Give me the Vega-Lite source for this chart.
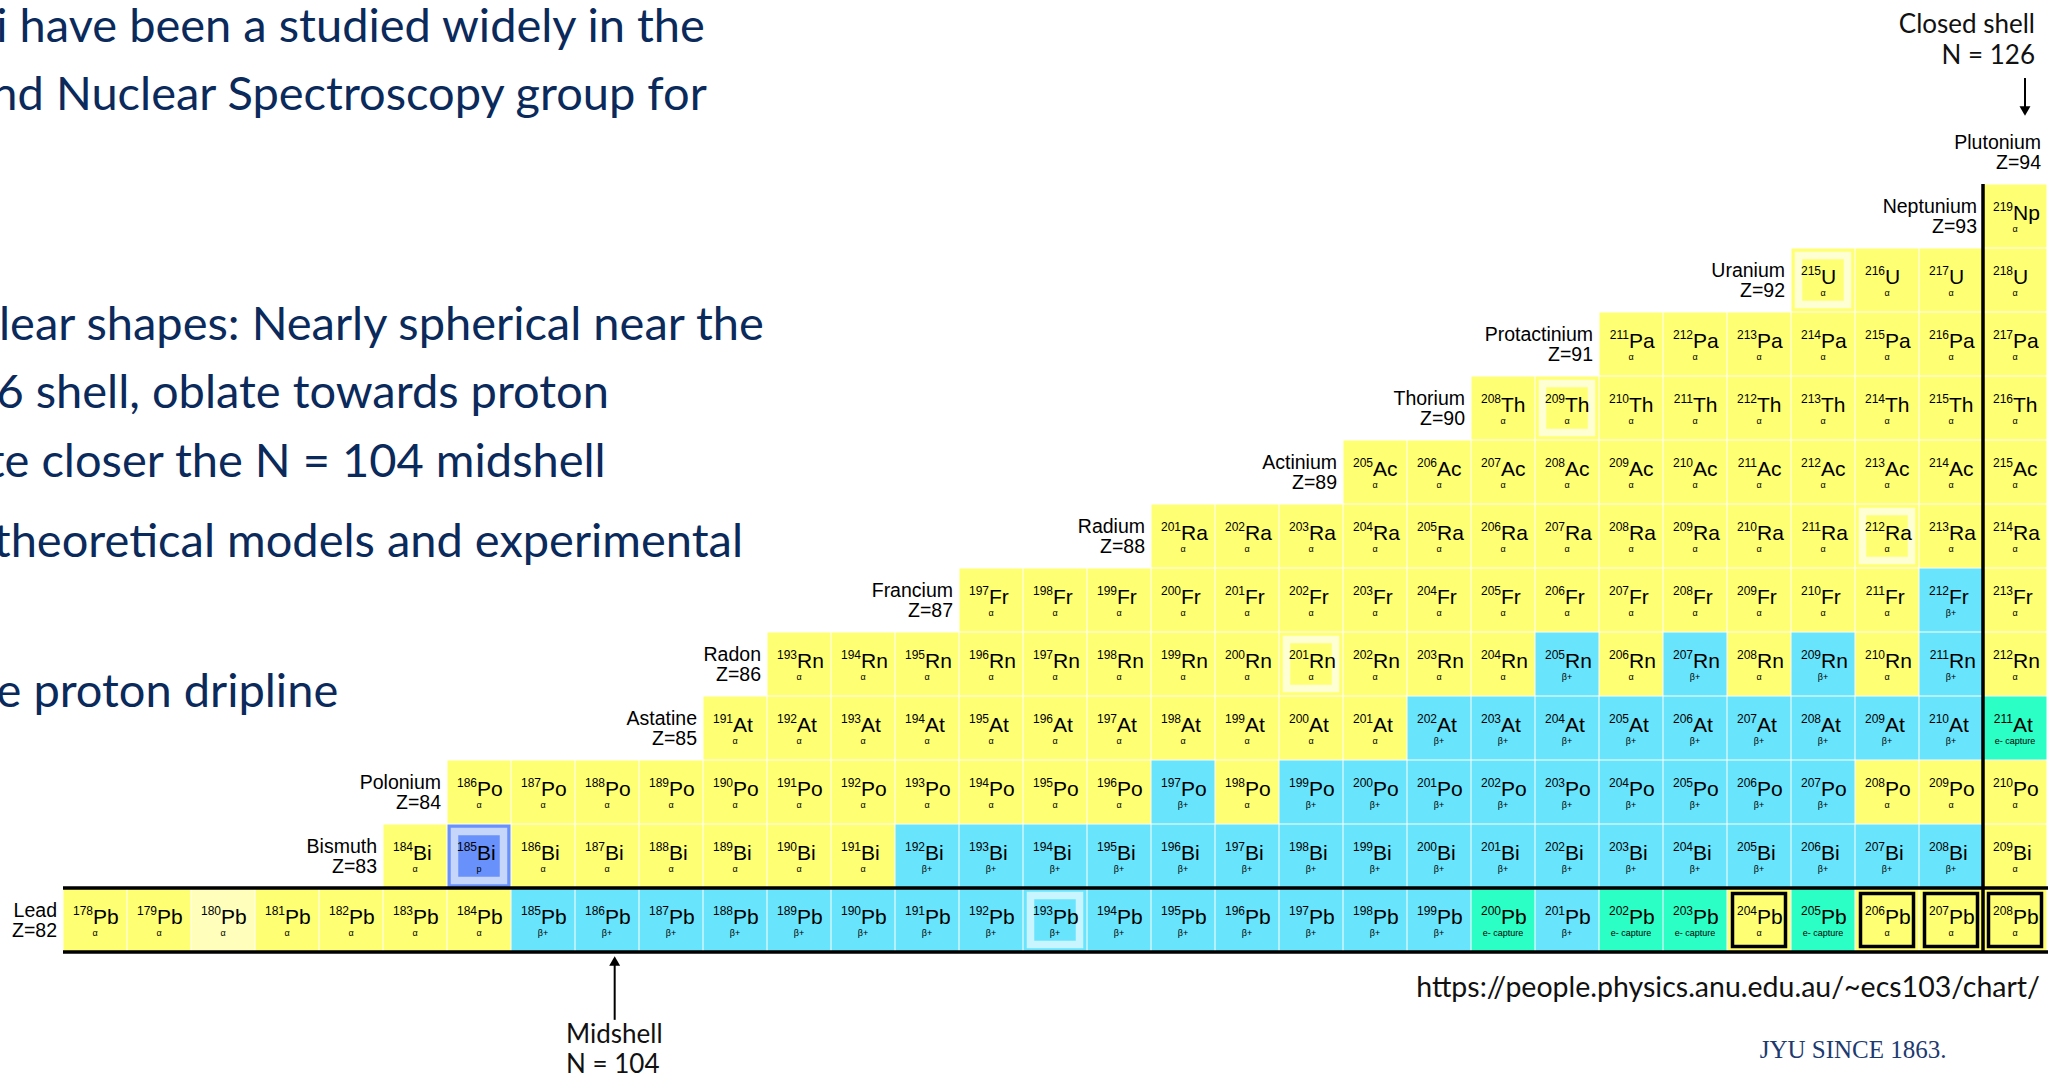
{
  "$schema": "https://vega.github.io/schema/vega-lite/v6.json",
  "width": 2048,
  "height": 1075,
  "padding": 0,
  "autosize": {"type": "none"},
  "background": "white",
  "config": {"view": {"stroke": null}},
  "datasets": {
    "nuclides": [
      {"e":"Pb","Z":82,"N":96,"A":178,"d":"α"},
      {"e":"Pb","Z":82,"N":97,"A":179,"d":"α"},
      {"e":"Pb","Z":82,"N":98,"A":180,"d":"α","s":"faded"},
      {"e":"Pb","Z":82,"N":99,"A":181,"d":"α"},
      {"e":"Pb","Z":82,"N":100,"A":182,"d":"α"},
      {"e":"Pb","Z":82,"N":101,"A":183,"d":"α"},
      {"e":"Pb","Z":82,"N":102,"A":184,"d":"α"},
      {"e":"Pb","Z":82,"N":103,"A":185,"d":"β+"},
      {"e":"Pb","Z":82,"N":104,"A":186,"d":"β+"},
      {"e":"Pb","Z":82,"N":105,"A":187,"d":"β+"},
      {"e":"Pb","Z":82,"N":106,"A":188,"d":"β+"},
      {"e":"Pb","Z":82,"N":107,"A":189,"d":"β+"},
      {"e":"Pb","Z":82,"N":108,"A":190,"d":"β+"},
      {"e":"Pb","Z":82,"N":109,"A":191,"d":"β+"},
      {"e":"Pb","Z":82,"N":110,"A":192,"d":"β+"},
      {"e":"Pb","Z":82,"N":111,"A":193,"d":"β+","s":"ring"},
      {"e":"Pb","Z":82,"N":112,"A":194,"d":"β+"},
      {"e":"Pb","Z":82,"N":113,"A":195,"d":"β+"},
      {"e":"Pb","Z":82,"N":114,"A":196,"d":"β+"},
      {"e":"Pb","Z":82,"N":115,"A":197,"d":"β+"},
      {"e":"Pb","Z":82,"N":116,"A":198,"d":"β+"},
      {"e":"Pb","Z":82,"N":117,"A":199,"d":"β+"},
      {"e":"Pb","Z":82,"N":118,"A":200,"d":"e- capture"},
      {"e":"Pb","Z":82,"N":119,"A":201,"d":"β+"},
      {"e":"Pb","Z":82,"N":120,"A":202,"d":"e- capture"},
      {"e":"Pb","Z":82,"N":121,"A":203,"d":"e- capture"},
      {"e":"Pb","Z":82,"N":122,"A":204,"d":"α","s":"stable"},
      {"e":"Pb","Z":82,"N":123,"A":205,"d":"e- capture"},
      {"e":"Pb","Z":82,"N":124,"A":206,"d":"α","s":"stable"},
      {"e":"Pb","Z":82,"N":125,"A":207,"d":"α","s":"stable"},
      {"e":"Pb","Z":82,"N":126,"A":208,"d":"α","s":"stable"},
      {"e":"Bi","Z":83,"N":101,"A":184,"d":"α"},
      {"e":"Bi","Z":83,"N":102,"A":185,"d":"p","s":"ring"},
      {"e":"Bi","Z":83,"N":103,"A":186,"d":"α"},
      {"e":"Bi","Z":83,"N":104,"A":187,"d":"α"},
      {"e":"Bi","Z":83,"N":105,"A":188,"d":"α"},
      {"e":"Bi","Z":83,"N":106,"A":189,"d":"α"},
      {"e":"Bi","Z":83,"N":107,"A":190,"d":"α"},
      {"e":"Bi","Z":83,"N":108,"A":191,"d":"α"},
      {"e":"Bi","Z":83,"N":109,"A":192,"d":"β+"},
      {"e":"Bi","Z":83,"N":110,"A":193,"d":"β+"},
      {"e":"Bi","Z":83,"N":111,"A":194,"d":"β+"},
      {"e":"Bi","Z":83,"N":112,"A":195,"d":"β+"},
      {"e":"Bi","Z":83,"N":113,"A":196,"d":"β+"},
      {"e":"Bi","Z":83,"N":114,"A":197,"d":"β+"},
      {"e":"Bi","Z":83,"N":115,"A":198,"d":"β+"},
      {"e":"Bi","Z":83,"N":116,"A":199,"d":"β+"},
      {"e":"Bi","Z":83,"N":117,"A":200,"d":"β+"},
      {"e":"Bi","Z":83,"N":118,"A":201,"d":"β+"},
      {"e":"Bi","Z":83,"N":119,"A":202,"d":"β+"},
      {"e":"Bi","Z":83,"N":120,"A":203,"d":"β+"},
      {"e":"Bi","Z":83,"N":121,"A":204,"d":"β+"},
      {"e":"Bi","Z":83,"N":122,"A":205,"d":"β+"},
      {"e":"Bi","Z":83,"N":123,"A":206,"d":"β+"},
      {"e":"Bi","Z":83,"N":124,"A":207,"d":"β+"},
      {"e":"Bi","Z":83,"N":125,"A":208,"d":"β+"},
      {"e":"Bi","Z":83,"N":126,"A":209,"d":"α"},
      {"e":"Po","Z":84,"N":102,"A":186,"d":"α"},
      {"e":"Po","Z":84,"N":103,"A":187,"d":"α"},
      {"e":"Po","Z":84,"N":104,"A":188,"d":"α"},
      {"e":"Po","Z":84,"N":105,"A":189,"d":"α"},
      {"e":"Po","Z":84,"N":106,"A":190,"d":"α"},
      {"e":"Po","Z":84,"N":107,"A":191,"d":"α"},
      {"e":"Po","Z":84,"N":108,"A":192,"d":"α"},
      {"e":"Po","Z":84,"N":109,"A":193,"d":"α"},
      {"e":"Po","Z":84,"N":110,"A":194,"d":"α"},
      {"e":"Po","Z":84,"N":111,"A":195,"d":"α"},
      {"e":"Po","Z":84,"N":112,"A":196,"d":"α"},
      {"e":"Po","Z":84,"N":113,"A":197,"d":"β+"},
      {"e":"Po","Z":84,"N":114,"A":198,"d":"α"},
      {"e":"Po","Z":84,"N":115,"A":199,"d":"β+"},
      {"e":"Po","Z":84,"N":116,"A":200,"d":"β+"},
      {"e":"Po","Z":84,"N":117,"A":201,"d":"β+"},
      {"e":"Po","Z":84,"N":118,"A":202,"d":"β+"},
      {"e":"Po","Z":84,"N":119,"A":203,"d":"β+"},
      {"e":"Po","Z":84,"N":120,"A":204,"d":"β+"},
      {"e":"Po","Z":84,"N":121,"A":205,"d":"β+"},
      {"e":"Po","Z":84,"N":122,"A":206,"d":"β+"},
      {"e":"Po","Z":84,"N":123,"A":207,"d":"β+"},
      {"e":"Po","Z":84,"N":124,"A":208,"d":"α"},
      {"e":"Po","Z":84,"N":125,"A":209,"d":"α"},
      {"e":"Po","Z":84,"N":126,"A":210,"d":"α"},
      {"e":"At","Z":85,"N":106,"A":191,"d":"α"},
      {"e":"At","Z":85,"N":107,"A":192,"d":"α"},
      {"e":"At","Z":85,"N":108,"A":193,"d":"α"},
      {"e":"At","Z":85,"N":109,"A":194,"d":"α"},
      {"e":"At","Z":85,"N":110,"A":195,"d":"α"},
      {"e":"At","Z":85,"N":111,"A":196,"d":"α"},
      {"e":"At","Z":85,"N":112,"A":197,"d":"α"},
      {"e":"At","Z":85,"N":113,"A":198,"d":"α"},
      {"e":"At","Z":85,"N":114,"A":199,"d":"α"},
      {"e":"At","Z":85,"N":115,"A":200,"d":"α"},
      {"e":"At","Z":85,"N":116,"A":201,"d":"α"},
      {"e":"At","Z":85,"N":117,"A":202,"d":"β+"},
      {"e":"At","Z":85,"N":118,"A":203,"d":"β+"},
      {"e":"At","Z":85,"N":119,"A":204,"d":"β+"},
      {"e":"At","Z":85,"N":120,"A":205,"d":"β+"},
      {"e":"At","Z":85,"N":121,"A":206,"d":"β+"},
      {"e":"At","Z":85,"N":122,"A":207,"d":"β+"},
      {"e":"At","Z":85,"N":123,"A":208,"d":"β+"},
      {"e":"At","Z":85,"N":124,"A":209,"d":"β+"},
      {"e":"At","Z":85,"N":125,"A":210,"d":"β+"},
      {"e":"At","Z":85,"N":126,"A":211,"d":"e- capture"},
      {"e":"Rn","Z":86,"N":107,"A":193,"d":"α"},
      {"e":"Rn","Z":86,"N":108,"A":194,"d":"α"},
      {"e":"Rn","Z":86,"N":109,"A":195,"d":"α"},
      {"e":"Rn","Z":86,"N":110,"A":196,"d":"α"},
      {"e":"Rn","Z":86,"N":111,"A":197,"d":"α"},
      {"e":"Rn","Z":86,"N":112,"A":198,"d":"α"},
      {"e":"Rn","Z":86,"N":113,"A":199,"d":"α"},
      {"e":"Rn","Z":86,"N":114,"A":200,"d":"α"},
      {"e":"Rn","Z":86,"N":115,"A":201,"d":"α","s":"ring"},
      {"e":"Rn","Z":86,"N":116,"A":202,"d":"α"},
      {"e":"Rn","Z":86,"N":117,"A":203,"d":"α"},
      {"e":"Rn","Z":86,"N":118,"A":204,"d":"α"},
      {"e":"Rn","Z":86,"N":119,"A":205,"d":"β+"},
      {"e":"Rn","Z":86,"N":120,"A":206,"d":"α"},
      {"e":"Rn","Z":86,"N":121,"A":207,"d":"β+"},
      {"e":"Rn","Z":86,"N":122,"A":208,"d":"α"},
      {"e":"Rn","Z":86,"N":123,"A":209,"d":"β+"},
      {"e":"Rn","Z":86,"N":124,"A":210,"d":"α"},
      {"e":"Rn","Z":86,"N":125,"A":211,"d":"β+"},
      {"e":"Rn","Z":86,"N":126,"A":212,"d":"α"},
      {"e":"Fr","Z":87,"N":110,"A":197,"d":"α"},
      {"e":"Fr","Z":87,"N":111,"A":198,"d":"α"},
      {"e":"Fr","Z":87,"N":112,"A":199,"d":"α"},
      {"e":"Fr","Z":87,"N":113,"A":200,"d":"α"},
      {"e":"Fr","Z":87,"N":114,"A":201,"d":"α"},
      {"e":"Fr","Z":87,"N":115,"A":202,"d":"α"},
      {"e":"Fr","Z":87,"N":116,"A":203,"d":"α"},
      {"e":"Fr","Z":87,"N":117,"A":204,"d":"α"},
      {"e":"Fr","Z":87,"N":118,"A":205,"d":"α"},
      {"e":"Fr","Z":87,"N":119,"A":206,"d":"α"},
      {"e":"Fr","Z":87,"N":120,"A":207,"d":"α"},
      {"e":"Fr","Z":87,"N":121,"A":208,"d":"α"},
      {"e":"Fr","Z":87,"N":122,"A":209,"d":"α"},
      {"e":"Fr","Z":87,"N":123,"A":210,"d":"α"},
      {"e":"Fr","Z":87,"N":124,"A":211,"d":"α"},
      {"e":"Fr","Z":87,"N":125,"A":212,"d":"β+"},
      {"e":"Fr","Z":87,"N":126,"A":213,"d":"α"},
      {"e":"Ra","Z":88,"N":113,"A":201,"d":"α"},
      {"e":"Ra","Z":88,"N":114,"A":202,"d":"α"},
      {"e":"Ra","Z":88,"N":115,"A":203,"d":"α"},
      {"e":"Ra","Z":88,"N":116,"A":204,"d":"α"},
      {"e":"Ra","Z":88,"N":117,"A":205,"d":"α"},
      {"e":"Ra","Z":88,"N":118,"A":206,"d":"α"},
      {"e":"Ra","Z":88,"N":119,"A":207,"d":"α"},
      {"e":"Ra","Z":88,"N":120,"A":208,"d":"α"},
      {"e":"Ra","Z":88,"N":121,"A":209,"d":"α"},
      {"e":"Ra","Z":88,"N":122,"A":210,"d":"α"},
      {"e":"Ra","Z":88,"N":123,"A":211,"d":"α"},
      {"e":"Ra","Z":88,"N":124,"A":212,"d":"α","s":"ring"},
      {"e":"Ra","Z":88,"N":125,"A":213,"d":"α"},
      {"e":"Ra","Z":88,"N":126,"A":214,"d":"α"},
      {"e":"Ac","Z":89,"N":116,"A":205,"d":"α"},
      {"e":"Ac","Z":89,"N":117,"A":206,"d":"α"},
      {"e":"Ac","Z":89,"N":118,"A":207,"d":"α"},
      {"e":"Ac","Z":89,"N":119,"A":208,"d":"α"},
      {"e":"Ac","Z":89,"N":120,"A":209,"d":"α"},
      {"e":"Ac","Z":89,"N":121,"A":210,"d":"α"},
      {"e":"Ac","Z":89,"N":122,"A":211,"d":"α"},
      {"e":"Ac","Z":89,"N":123,"A":212,"d":"α"},
      {"e":"Ac","Z":89,"N":124,"A":213,"d":"α"},
      {"e":"Ac","Z":89,"N":125,"A":214,"d":"α"},
      {"e":"Ac","Z":89,"N":126,"A":215,"d":"α"},
      {"e":"Th","Z":90,"N":118,"A":208,"d":"α"},
      {"e":"Th","Z":90,"N":119,"A":209,"d":"α","s":"ring"},
      {"e":"Th","Z":90,"N":120,"A":210,"d":"α"},
      {"e":"Th","Z":90,"N":121,"A":211,"d":"α"},
      {"e":"Th","Z":90,"N":122,"A":212,"d":"α"},
      {"e":"Th","Z":90,"N":123,"A":213,"d":"α"},
      {"e":"Th","Z":90,"N":124,"A":214,"d":"α"},
      {"e":"Th","Z":90,"N":125,"A":215,"d":"α"},
      {"e":"Th","Z":90,"N":126,"A":216,"d":"α"},
      {"e":"Pa","Z":91,"N":120,"A":211,"d":"α"},
      {"e":"Pa","Z":91,"N":121,"A":212,"d":"α"},
      {"e":"Pa","Z":91,"N":122,"A":213,"d":"α"},
      {"e":"Pa","Z":91,"N":123,"A":214,"d":"α"},
      {"e":"Pa","Z":91,"N":124,"A":215,"d":"α"},
      {"e":"Pa","Z":91,"N":125,"A":216,"d":"α"},
      {"e":"Pa","Z":91,"N":126,"A":217,"d":"α"},
      {"e":"U","Z":92,"N":123,"A":215,"d":"α","s":"ring"},
      {"e":"U","Z":92,"N":124,"A":216,"d":"α"},
      {"e":"U","Z":92,"N":125,"A":217,"d":"α"},
      {"e":"U","Z":92,"N":126,"A":218,"d":"α"},
      {"e":"Np","Z":93,"N":126,"A":219,"d":"α"}
    ],
    "elements": [
      {"label":"Lead\nZ=82","Z":82,"N":96},
      {"label":"Bismuth\nZ=83","Z":83,"N":101},
      {"label":"Polonium\nZ=84","Z":84,"N":102},
      {"label":"Astatine\nZ=85","Z":85,"N":106},
      {"label":"Radon\nZ=86","Z":86,"N":107},
      {"label":"Francium\nZ=87","Z":87,"N":110},
      {"label":"Radium\nZ=88","Z":88,"N":113},
      {"label":"Actinium\nZ=89","Z":89,"N":116},
      {"label":"Thorium\nZ=90","Z":90,"N":118},
      {"label":"Protactinium\nZ=91","Z":91,"N":120},
      {"label":"Uranium\nZ=92","Z":92,"N":123},
      {"label":"Neptunium\nZ=93","Z":93,"N":126},
      {"label":"Plutonium\nZ=94","Z":94,"N":127}
    ],
    "shells": [
      {"N":95.5,"N2":127,"Z":82.5,"Z2":82.5},
      {"N":95.5,"N2":127,"Z":81.5,"Z2":81.5},
      {"N":125.5,"N2":125.5,"Z":81.5,"Z2":93.5}
    ],
    "shafts": [
      {"N":126.156,"N2":126.156,"Z":95.156,"Z2":94.7},
      {"N":104.12,"N2":104.12,"Z":81.3,"Z2":80.44}
    ],
    "heads": [
      {"N":126.156,"Z":94.64,"dir":"down"},
      {"N":104.12,"Z":81.36,"dir":"up"}
    ],
    "para": [
      {"text":"i have been a studied widely in the","N":105.53,"Z":95.72},
      {"text":"nd Nuclear Spectroscopy group for","N":105.56,"Z":94.656},
      {"text":"lear shapes: Nearly spherical near the","N":106.45,"Z":91.0625},
      {"text":"6 shell, oblate towards proton","N":104.03,"Z":90.0},
      {"text":"te closer the N = 104 midshell","N":103.98,"Z":88.92},
      {"text":"theoretical models and experimental","N":106.125,"Z":87.67},
      {"text":"e proton dripline","N":99.8,"Z":85.33}
    ],
    "shell": [{"text":"Closed shell\nN = 126","N":126.3125,"Z":95.86}],
    "mid": [{"text":"Midshell\nN = 104","N":103.36,"Z":80.078}],
    "url": [{"text":"https://people.physics.anu.edu.au/~ecs103/chart/","N":126.39,"Z":80.797}],
    "jyu": [{"text":"JYU SINCE 1863.","N":123.47,"Z":79.844}]
  },
  "encoding": {
    "x": {"field":"N","type":"quantitative","scale":{"domain":[94.515625,126.515625],"nice":false,"zero":false},"axis":null},
    "y": {"field":"Z","type":"quantitative","scale":{"domain":[79.578125,96.375],"nice":false,"zero":false},"axis":null}
  },
  "layer": [
    {
      "data": {"name":"nuclides"},
      "mark": {"type":"square","size":3969,"filled":true,"opacity":1},
      "encoding": {
        "color": {"condition":{"test":"datum.s === 'faded'","value":"#ffffbb"},"field":"d","type":"nominal","scale":{"domain":["α","β+","e- capture","p"],"range":["#ffff73","#68e4fc","#2bffc6","#6891fb"]},"legend":null}
      }
    },
    {
      "data": {"name":"nuclides"},
      "transform": [{"filter":"datum.s === 'ring'"}],
      "mark": {"type":"square","size":2401,"filled":false,"strokeWidth":7.5,"opacity":1},
      "encoding": {
        "stroke": {"field":"d","type":"nominal","scale":{"domain":["α","β+","p"],"range":["#ffffd4","#c8f5ff","#c6d6fb"]},"legend":null}
      }
    },
    {
      "data": {"name":"nuclides"},
      "transform": [{"filter":"datum.s === 'stable'"}],
      "mark": {"type":"square","size":2809,"filled":false,"stroke":"#000000","strokeWidth":3.5,"opacity":1}
    },
    {
      "data": {"name":"nuclides"},
      "mark": {"type":"text","font":"Liberation Sans","fontSize":12,"align":"right","baseline":"alphabetic","dx":-2,"dy":-5,"color":"#000000"},
      "encoding": {"text":{"field":"A","type":"nominal"}}
    },
    {
      "data": {"name":"nuclides"},
      "mark": {"type":"text","font":"Liberation Sans","fontSize":21,"align":"left","baseline":"alphabetic","dx":-2,"dy":4,"color":"#000000"},
      "encoding": {"text":{"field":"e","type":"nominal"}}
    },
    {
      "data": {"name":"nuclides"},
      "mark": {"type":"text","font":"Liberation Sans","fontSize":9,"align":"center","baseline":"middle","dy":13,"color":"#000000"},
      "encoding": {"text":{"field":"d","type":"nominal"}}
    },
    {
      "data": {"name":"elements"},
      "mark": {"type":"text","font":"Liberation Sans","fontSize":19.5,"lineHeight":19.5,"lineBreak":"\n","align":"right","baseline":"middle","dx":-38,"dy":-9,"color":"#000000"},
      "encoding": {"text":{"field":"label","type":"nominal"}}
    },
    {
      "data": {"name":"shells"},
      "mark": {"type":"rule","stroke":"#000000","strokeWidth":3.5},
      "encoding": {"x2":{"field":"N2"},"y2":{"field":"Z2"}}
    },
    {
      "data": {"name":"shafts"},
      "mark": {"type":"rule","stroke":"#000000","strokeWidth":2},
      "encoding": {"x2":{"field":"N2"},"y2":{"field":"Z2"}}
    },
    {
      "data": {"name":"heads"},
      "mark": {"type":"point","filled":true,"color":"#000000","size":120,"opacity":1},
      "encoding": {"shape":{"field":"dir","type":"nominal","scale":{"domain":["down","up"],"range":["triangle-down","triangle-up"]},"legend":null}}
    },
    {
      "data": {"name":"para"},
      "mark": {"type":"text","font":"Lato","fontSize":47,"align":"right","baseline":"alphabetic","color":"#0b2a5c"},
      "encoding": {"text":{"field":"text","type":"nominal"}}
    },
    {
      "data": {"name":"shell"},
      "mark": {"type":"text","font":"Lato","fontSize":26,"lineHeight":31,"lineBreak":"\n","align":"right","baseline":"alphabetic","color":"#111111"},
      "encoding": {"text":{"field":"text","type":"nominal"}}
    },
    {
      "data": {"name":"mid"},
      "mark": {"type":"text","font":"Lato","fontSize":26,"lineHeight":30,"lineBreak":"\n","align":"left","baseline":"alphabetic","color":"#111111"},
      "encoding": {"text":{"field":"text","type":"nominal"}}
    },
    {
      "data": {"name":"url"},
      "mark": {"type":"text","font":"Lato","fontSize":28.5,"align":"right","baseline":"alphabetic","color":"#111111"},
      "encoding": {"text":{"field":"text","type":"nominal"}}
    },
    {
      "data": {"name":"jyu"},
      "mark": {"type":"text","font":"Liberation Serif","fontSize":25,"align":"center","baseline":"alphabetic","color":"#1c3a70"},
      "encoding": {"text":{"field":"text","type":"nominal"}}
    }
  ]
}
